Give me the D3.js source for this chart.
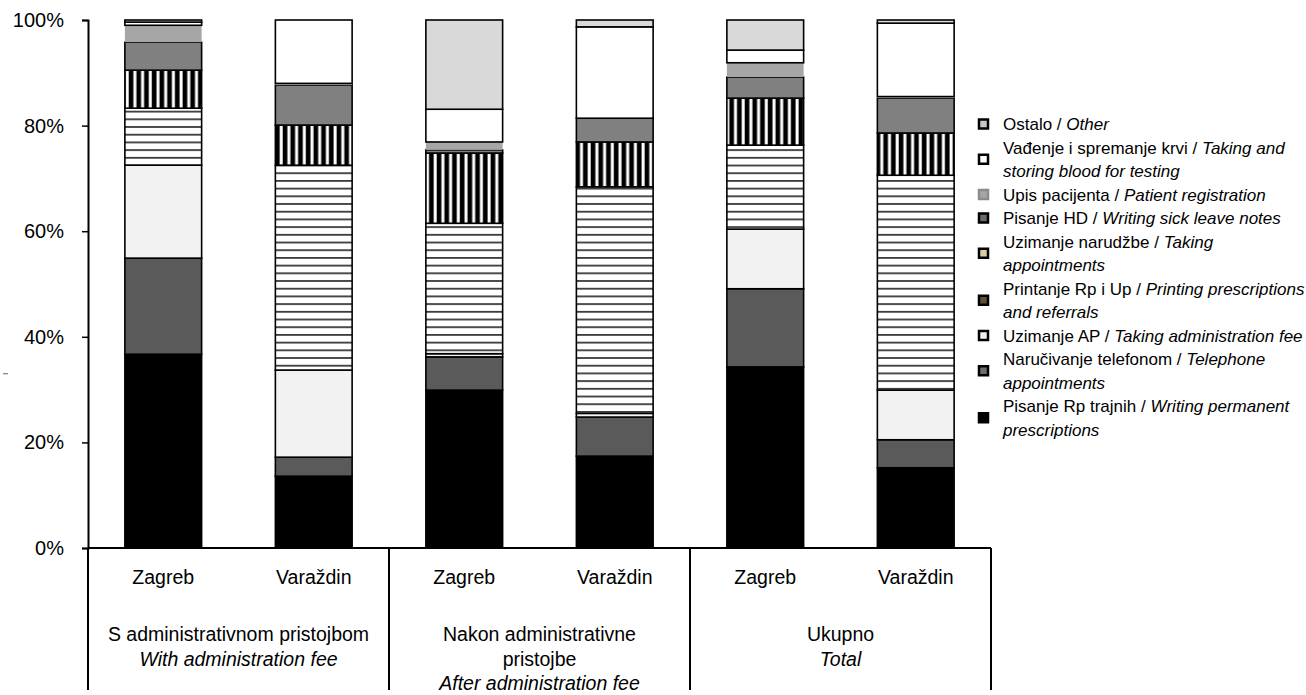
<!DOCTYPE html>
<html>
<head>
<meta charset="utf-8">
<script src="https://cdn.jsdelivr.net/npm/d3@7"></script>
<style>
  body { margin: 0; background: #fff; }
  text { font-family: "Liberation Sans", Arial, sans-serif; fill: #000; }
</style>
</head>
<body>
<div id="chart"></div>
<script>
// Data
const bars = ['Zagreb|S', 'Varaždin|S', 'Zagreb|N', 'Varaždin|N', 'Zagreb|U', 'Varaždin|U'];
const barLabels = ['Zagreb', 'Varaždin', 'Zagreb', 'Varaždin', 'Zagreb', 'Varaždin'];
const groups = ['S', 'N', 'U'];
const groupLabels = [
    [['S administrativnom pristojbom', false], ['With administration fee', true]],
    [['Nakon administrativne', false], ['pristojbe', false], ['After administration fee', true]],
    [['Ukupno', false], ['Total', true]]
];
const yTicks = [0, 20, 40, 60, 80, 100];

// stack order bottom -> top
const seriesKeys = ['rp', 'tel', 'ap', 'print', 'narud', 'hd', 'upis', 'krv', 'ostalo'];
const rp     = [36.7, 13.6, 29.9, 17.4, 34.3, 15.2];
const tel    = [18.2,  3.6,  6.3,  7.4, 14.8,  5.3];
const ap     = [17.6, 16.5,  0.6,  0.7, 11.3,  9.4];
const print  = [10.8, 38.8, 24.7, 42.9, 15.9, 40.7];
const narud  = [ 7.2,  7.6, 13.3,  8.5,  8.9,  8.0];
const hd     = [ 5.3,  7.6,  0.6,  4.5,  4.0,  6.6];
const upis   = [ 3.2,  0.3,  1.5,  0.0,  2.7,  0.3];
const krv    = [ 0.6, 12.0,  6.2, 17.3,  2.4, 13.9];
const ostalo = [ 0.4,  0.0, 16.9,  1.3,  5.7,  0.6];

// legend, top -> bottom
const legendKeys = ['ostalo', 'krv', 'upis', 'hd', 'narud', 'print', 'ap', 'tel', 'rp'];
const legendLines = [
    [['Ostalo / ', 'Other']],
    [['Vađenje i spremanje krvi / ', 'Taking and'], ['', 'storing blood for testing']],
    [['Upis pacijenta / ', 'Patient registration']],
    [['Pisanje HD / ', 'Writing sick leave notes']],
    [['Uzimanje narudžbe / ', 'Taking'], ['', 'appointments']],
    [['Printanje Rp i Up / ', 'Printing prescriptions'], ['', 'and referrals']],
    [['Uzimanje AP / ', 'Taking administration fee']],
    [['Naručivanje telefonom / ', 'Telephone'], ['', 'appointments']],
    [['Pisanje Rp trajnih / ', 'Writing permanent'], ['', 'prescriptions']]
];

const values = { rp, tel, ap, print, narud, hd, upis, krv, ostalo };
const fills = {
    rp: '#000', tel: '#5a5a5a', ap: '#f2f2f2', print: 'url(#hstripes)', narud: 'url(#vstripes)',
    hd: '#808080', upis: '#a6a6a6', krv: '#fff', ostalo: '#d9d9d9'
};
const swatch = {
    rp: '#000', tel: '#6e6e6e', ap: '#eeeeee', print: '#5c5234', narud: '#d8cfa2',
    hd: '#6a6a6a', upis: '#a6a6a6', krv: '#fff', ostalo: '#c8c8c8'
};

const W = 1306, H = 695;
const svg = d3.select('#chart').append('svg').attr('width', W).attr('height', H);

const defs = svg.append('defs');
const hp = defs.append('pattern').attr('id', 'hstripes').attr('patternUnits', 'userSpaceOnUse')
    .attr('width', 8).attr('height', 7.7);
hp.append('rect').attr('width', 8).attr('height', 7.7).attr('fill', '#fff');
hp.append('rect').attr('y', 3).attr('width', 8).attr('height', 1.6).attr('fill', '#222');
const vp = defs.append('pattern').attr('id', 'vstripes').attr('patternUnits', 'userSpaceOnUse')
    .attr('width', 7.7).attr('height', 8);
vp.append('rect').attr('width', 7.7).attr('height', 8).attr('fill', '#000');
vp.append('rect').attr('x', 2.5).attr('width', 3).attr('height', 8).attr('fill', '#fff');

const x0 = 88, x1 = 991, yTop = 20, yBot = 548;
const x = d3.scaleBand().domain(bars).range([x0, x1]).paddingInner(0.49).paddingOuter(0.245);
const xg = d3.scaleBand().domain(groups).range([x0, x1]);
const y = d3.scaleLinear().domain([0, 100]).range([yBot, yTop]);

const table = bars.map((b, i) => {
    const row = { bar: b };
    seriesKeys.forEach(k => { row[k] = values[k][i]; });
    return row;
});
const stacked = d3.stack().keys(seriesKeys)(table);

// Bars
svg.append('g').selectAll('g')
    .data(stacked)
    .join('g')
    .attr('fill', d => fills[d.key])
    .attr('stroke', d => d.key === 'upis' ? 'none' : '#000')
    .attr('stroke-width', 1.6)
    .selectAll('rect')
    .data(d => d.filter(p => p[1] - p[0] > 0))
    .join('rect')
    .attr('x', d => x(d.data.bar))
    .attr('width', x.bandwidth())
    .attr('y', d => y(d[1]))
    .attr('height', d => y(d[0]) - y(d[1]));

// Y axis
const yAxis = svg.append('g')
    .attr('transform', `translate(${x0},0)`)
    .call(d3.axisLeft(y).tickValues(yTicks).tickSize(6).tickFormat(d => d + '%'));
yAxis.select('.domain').attr('stroke', '#000').attr('stroke-width', 2);
yAxis.selectAll('.tick line').attr('stroke', '#000').attr('stroke-width', 1.5);
yAxis.selectAll('.tick text')
    .attr('x', -24)
    .style('font-family', '"Liberation Sans", Arial, sans-serif')
    .style('font-size', '20px')
    .attr('fill', '#000');

// stray tick mark at the left edge, as in the source
svg.append('line').attr('x1', 3).attr('x2', 8).attr('y1', y(33)).attr('y2', y(33))
    .attr('stroke', '#666').attr('stroke-width', 1);

// X axis baseline and group separators
svg.append('line').attr('x1', x0).attr('x2', x1).attr('y1', yBot).attr('y2', yBot)
    .attr('stroke', '#000').attr('stroke-width', 2);
svg.append('g').selectAll('line')
    .data(groups.map(g => xg(g)).concat([x1]))
    .join('line')
    .attr('x1', d => d).attr('x2', d => d)
    .attr('y1', yBot).attr('y2', 690)
    .attr('stroke', '#000').attr('stroke-width', 2);

// Category labels
svg.append('g').selectAll('text')
    .data(bars)
    .join('text')
    .attr('x', d => x(d) + x.bandwidth() / 2)
    .attr('y', 584)
    .attr('text-anchor', 'middle')
    .style('font-size', '19.5px')
    .text((d, i) => barLabels[i]);

// Group labels
groups.forEach((g, gi) => {
    groupLabels[gi].forEach((ln, li) => {
        svg.append('text')
            .attr('x', xg(g) + xg.bandwidth() / 2)
            .attr('y', 641 + li * 24.5)
            .attr('text-anchor', 'middle')
            .style('font-size', '19.5px')
            .style('font-style', ln[1] ? 'italic' : 'normal')
            .text(ln[0]);
    });
});

// Legend
const lineH = 23.5;
let lineIdx = 0;
const legend = svg.append('g');
legendKeys.forEach((k, i) => {
    const lines = legendLines[i];
    const firstY = 124 + lineIdx * lineH;
    const cy = firstY + (lines.length - 1) * lineH / 2;
    legend.append('rect')
        .attr('x', 979).attr('y', cy - 4.5)
        .attr('width', 9).attr('height', 9)
        .attr('fill', swatch[k])
        .attr('stroke', k === 'upis' ? '#8c8c8c' : '#000')
        .attr('stroke-width', 2.5);
    lines.forEach((ln, li) => {
        const t = legend.append('text')
            .attr('x', 1003)
            .attr('y', firstY + li * lineH + 6)
            .style('font-size', '17px');
        if (ln[0]) t.append('tspan').text(ln[0]);
        t.append('tspan').style('font-style', 'italic').text(ln[1]);
    });
    lineIdx += lines.length;
});
</script>
</body>
</html>
